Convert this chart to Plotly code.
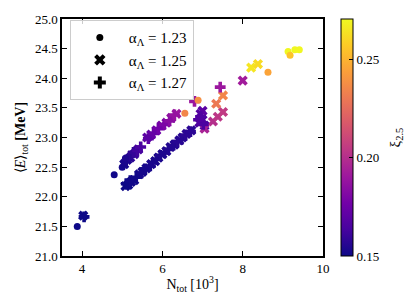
import plotly.graph_objects as go

# alpha = 1.23 (circles)
n_123 = [3.88, 4.80, 5.00, 5.05, 5.08, 6.56, 6.89, 8.63, 9.13, 9.18, 9.30, 9.41]
e_123 = [21.50, 22.37, 22.50, 22.58, 22.65, 23.41, 23.63, 24.10, 24.45, 24.39, 24.48, 24.48]
xi_123 = [0.150, 0.151, 0.152, 0.153, 0.154, 0.235, 0.238, 0.245, 0.270, 0.255, 0.270, 0.270]

# alpha = 1.25 (x)
n_125 = [4.03,
         5.08, 5.15, 5.22, 5.30, 5.42, 5.50, 5.60, 5.72, 5.82, 5.90, 6.00, 6.10, 6.20, 6.30, 6.42, 6.50, 6.60, 6.72,
         5.05, 5.12, 5.20, 5.30, 5.40, 5.62, 5.72, 5.85, 5.98, 6.10, 6.22, 6.35,
         6.92, 7.00, 6.95, 7.05, 7.00,
         7.05, 7.26, 7.38, 7.51, 7.34, 7.51, 8.00, 8.21, 8.38]
e_125 = [21.68,
         22.18, 22.20, 22.25, 22.28, 22.38, 22.42, 22.48, 22.55, 22.60, 22.66, 22.72, 22.77, 22.84, 22.88, 22.95, 23.00, 23.06, 23.12,
         22.55, 22.62, 22.66, 22.72, 22.80, 23.00, 23.05, 23.12, 23.20, 23.25, 23.33, 23.40,
         23.25, 23.30, 23.40, 23.20, 23.45,
         23.15, 23.27, 23.35, 23.43, 23.57, 23.71, 23.96, 24.18, 24.24]
xi_125 = [0.150,
          0.150, 0.150, 0.151, 0.151, 0.152, 0.152, 0.152, 0.153, 0.153, 0.153, 0.154, 0.154, 0.155, 0.155, 0.156, 0.156, 0.157, 0.157,
          0.152, 0.155, 0.157, 0.160, 0.163, 0.170, 0.172, 0.175, 0.178, 0.182, 0.186, 0.190,
          0.165, 0.166, 0.168, 0.164, 0.170,
          0.195, 0.200, 0.203, 0.205, 0.230, 0.235, 0.192, 0.265, 0.262]

# alpha = 1.27 (+)
n_127 = [4.05,
         5.10, 5.20, 5.35, 5.48, 5.58, 5.70, 5.85, 5.95, 6.05, 6.15, 6.28, 6.38, 6.48, 6.58, 6.70,
         5.10, 5.18, 5.28, 5.38, 5.46, 5.65, 5.78, 5.90, 6.05, 6.18, 6.30,
         6.95, 7.02, 6.90,
         6.80, 7.44]
e_127 = [21.66,
         22.22, 22.27, 22.33, 22.40, 22.47, 22.52, 22.63, 22.70, 22.74, 22.80, 22.87, 22.93, 22.97, 23.04, 23.10,
         22.60, 22.68, 22.75, 22.78, 22.84, 22.98, 23.07, 23.15, 23.22, 23.28, 23.38,
         23.35, 23.22, 23.30,
         23.61, 23.85]
xi_127 = [0.150,
          0.150, 0.151, 0.151, 0.152, 0.152, 0.153, 0.153, 0.154, 0.154, 0.155, 0.155, 0.156, 0.156, 0.157, 0.157,
          0.153, 0.156, 0.159, 0.162, 0.165, 0.170, 0.173, 0.177, 0.180, 0.184, 0.188,
          0.166, 0.165, 0.167,
          0.190, 0.190]

legend_labels = ["α<sub>Λ</sub> = 1.23", "α<sub>Λ</sub> = 1.25", "α<sub>Λ</sub> = 1.27"]
CMIN, CMAX = 0.15, 0.2705
FONT = "Liberation Serif"

fig = go.Figure()

def add(n, e, xi, symbol, size, colorbar=False):
    marker = dict(symbol=symbol, size=size, color=xi, colorscale="Plasma",
                  cmin=CMIN, cmax=CMAX, line=dict(width=0))
    if colorbar:
        marker["showscale"] = True
        marker["colorbar"] = dict(
            x=1.069, xanchor="left", xpad=0, ypad=0, y=0, yanchor="bottom",
            len=1, lenmode="fraction", thickness=12, thicknessmode="pixels",
            outlinewidth=1, outlinecolor="black",
            tickvals=[0.15, 0.20, 0.25], ticktext=["0.15", "0.20", "0.25"],
            ticks="inside", ticklen=4, tickcolor="black",
            tickfont=dict(family=FONT, size=13, color="black"))
    else:
        marker["showscale"] = False
    fig.add_trace(go.Scatter(x=n, y=e, mode="markers", marker=marker,
                             showlegend=False, hoverinfo="skip"))

add(n_125, e_125, xi_125, "x", 9)
add(n_127, e_127, xi_127, "cross", 9)
add(n_123, e_123, xi_123, "circle", 7, colorbar=True)

for lab, sym, sz in zip(legend_labels, ["circle", "x", "cross"], [7, 10, 10]):
    fig.add_trace(go.Scatter(x=[None], y=[None], mode="markers",
                             marker=dict(symbol=sym, size=sz, color="black"),
                             name=lab, showlegend=True))

axis_common = dict(showline=True, linecolor="black", linewidth=1.5, mirror="ticks",
                   ticks="inside", ticklen=5, tickcolor="black", tickwidth=1,
                   showgrid=False, zeroline=False,
                   tickfont=dict(family=FONT, size=13, color="black"))

fig.update_layout(
    width=415, height=306,
    margin=dict(l=62, r=92, t=16, b=50),
    paper_bgcolor="white", plot_bgcolor="white",
    xaxis=dict(range=[3.5, 10], tickvals=[4, 6, 8, 10],
               title=dict(text="N<sub>tot</sub> [10<sup>3</sup>]", standoff=4,
                          font=dict(family=FONT, size=14, color="black")),
               **axis_common),
    yaxis=dict(range=[21, 25], dtick=0.5, tickformat=".1f",
               title=dict(text="⟨<i>E</i>⟩<sub>tot</sub> <b>[MeV]</b>", standoff=6,
                          font=dict(family=FONT, size=14, color="black")),
               **axis_common),
    legend=dict(x=0.03, y=0.995, xanchor="left", yanchor="top",
                bgcolor="rgba(255,255,255,0.8)", bordercolor="#cccccc", borderwidth=1,
                font=dict(family=FONT, size=15, color="black"),
                itemsizing="trace", tracegroupgap=0, itemwidth=48),
    annotations=[dict(text="ξ<sub>2.5</sub>", xref="paper", yref="paper",
                      x=1.276, y=0.5, xanchor="center", yanchor="middle",
                      textangle=-90, showarrow=False,
                      font=dict(family=FONT, size=15, color="black"))],
)

fig.write_html("out.html", config={"displayModeBar": False},
               post_script="document.body.style.margin='0';document.body.style.overflow='hidden';")
